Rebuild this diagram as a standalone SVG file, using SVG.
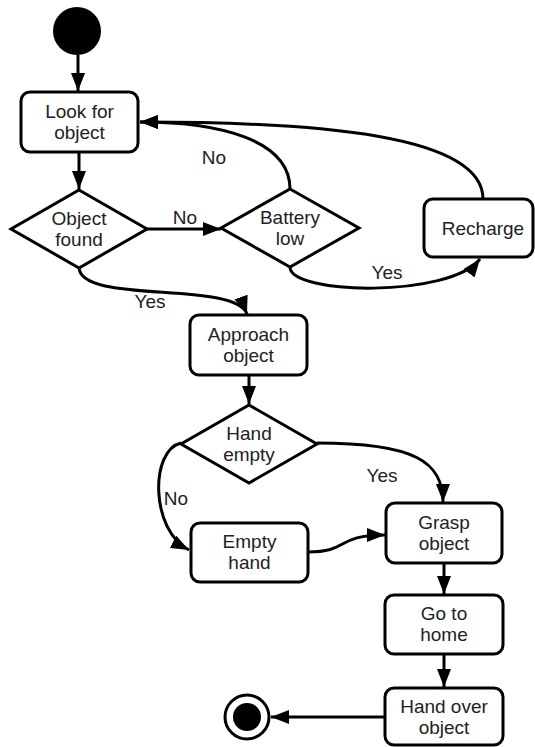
<svg xmlns="http://www.w3.org/2000/svg" width="535" height="747" viewBox="0 0 535 747">
<defs>
<marker id="ah" markerUnits="userSpaceOnUse" markerWidth="20" markerHeight="16" refX="18" refY="7" orient="auto">
<path d="M0,0 L18,7 L0,14 z" fill="#000"/>
</marker>
<style>
.node{fill:#fff;stroke:#000;stroke-width:3}
.t{font-family:"Liberation Sans",Arial,sans-serif;font-size:19px;fill:#222;text-anchor:middle}
.c{fill:none;stroke:#000;stroke-width:3;marker-end:url(#ah)}
</style>
</defs>
<rect width="535" height="747" fill="#fff"/>
<g id="connectors">
<path class="c" d="M78,55 L78,91"/>
<path class="c" d="M79,152 L79,189"/>
<path class="c" d="M147,229 L221,229"/>
<path class="c" d="M290,189 C290,140 220,122 140,122"/>
<path class="c" d="M483,199 C483,135 320,122 140,122"/>
<path class="c" d="M290,267 C290,295 450,298 480,259"/>
<path class="c" d="M79,267 C79,305 235,280 247,314"/>
<path class="c" d="M249,375 L249,404"/>
<path class="c" d="M317,443 C415,443 443,462 443,502"/>
<path class="c" d="M181,443 C150,450 150,530 189,550"/>
<path class="c" d="M308,552 C350,552 335,535 385,535"/>
<path class="c" d="M444,563 L444,594"/>
<path class="c" d="M444,654 L444,687"/>
<path class="c" d="M385,717 L271,717"/>
<text class="t" x="214" y="164">No</text>
<text class="t" x="185" y="224">No</text>
<text class="t" x="387" y="279">Yes</text>
<text class="t" x="150" y="308">Yes</text>
<text class="t" x="382" y="482">Yes</text>
<text class="t" x="176" y="505">No</text>
</g>
<g id="start"><circle cx="77" cy="31" r="24" fill="#000"/></g>
<g id="look"><rect class="node" x="21" y="92" width="117" height="60" rx="9"/><text class="t" x="79.5" y="118">Look for</text><text class="t" x="79.5" y="139">object</text></g>
<g id="found"><path class="node" d="M79,190 L147,229 L79,268 L11,229 z"/><text class="t" x="79" y="225">Object</text><text class="t" x="79" y="246">found</text></g>
<g id="battery"><path class="node" d="M290,189 L359,228 L290,267 L221,228 z"/><text class="t" x="290" y="224">Battery</text><text class="t" x="290" y="245">low</text></g>
<g id="recharge"><rect class="node" x="424" y="199" width="109" height="58" rx="9"/><text class="t" x="483" y="235">Recharge</text></g>
<g id="approach"><rect class="node" x="190" y="315" width="117" height="60" rx="9"/><text class="t" x="248.5" y="341">Approach</text><text class="t" x="248.5" y="362">object</text></g>
<g id="handempty"><path class="node" d="M249,405 L317,444 L249,483 L181,444 z"/><text class="t" x="249" y="440">Hand</text><text class="t" x="249" y="461">empty</text></g>
<g id="emptyhand"><rect class="node" x="191" y="523" width="117" height="59" rx="9"/><text class="t" x="249.5" y="548">Empty</text><text class="t" x="249.5" y="569">hand</text></g>
<g id="grasp"><rect class="node" x="386" y="503" width="116" height="60" rx="9"/><text class="t" x="444" y="529">Grasp</text><text class="t" x="444" y="550">object</text></g>
<g id="home"><rect class="node" x="385" y="595" width="118" height="59" rx="9"/><text class="t" x="444" y="620">Go to</text><text class="t" x="444" y="641">home</text></g>
<g id="handover"><rect class="node" x="385" y="688" width="118" height="57" rx="9"/><text class="t" x="444" y="713">Hand over</text><text class="t" x="444" y="734">object</text></g>
<g id="end"><circle cx="247" cy="717" r="22" fill="#fff" stroke="#000" stroke-width="3"/><circle cx="247" cy="717" r="14" fill="#000"/></g>
</svg>
